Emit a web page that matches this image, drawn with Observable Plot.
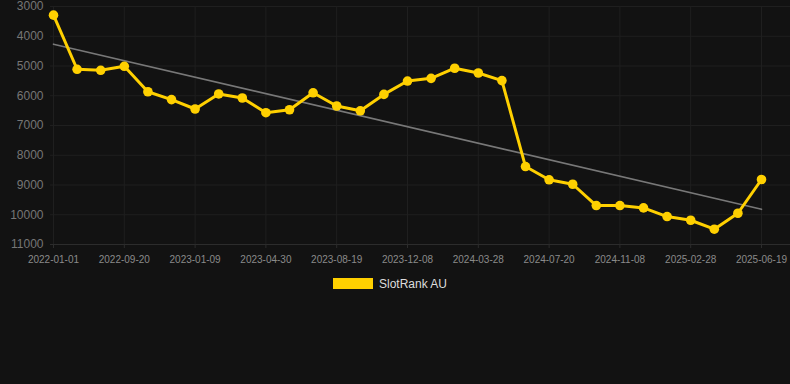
<!DOCTYPE html>
<html><head><meta charset="utf-8">
<script src="https://cdn.jsdelivr.net/npm/d3@7"></script>
<script src="https://cdn.jsdelivr.net/npm/@observablehq/plot@0.6"></script>
<style>
html,body{margin:0;padding:0;background:#121212;width:790px;height:384px;overflow:hidden;font-family:"Liberation Sans",Arial,sans-serif;}
#chart svg{display:block;background:#121212;}
#legend{display:flex;justify-content:center;align-items:center;gap:6px;margin-top:8px;height:11px;color:#dddddd;font-size:12px;padding-right:10px;}
#legend .sw{display:inline-block;width:40px;height:11px;background:#FFD000;}
</style></head><body>
<div id="chart"></div>
<div id="legend"><span class="sw"></span><span id="lname"></span></div>
<script>
const seriesName = "SlotRank AU";
const dates = [
  "2022-01-01","2022-07-08","2022-08-14","2022-09-20","2022-10-27","2022-12-03",
  "2023-01-09","2023-02-15","2023-03-24","2023-04-30","2023-06-06","2023-07-13",
  "2023-08-19","2023-09-25","2023-11-01","2023-12-08","2024-01-14","2024-02-20",
  "2024-03-28","2024-05-04","2024-06-12","2024-07-20","2024-08-26","2024-10-02",
  "2024-11-08","2024-12-15","2025-01-21","2025-02-28","2025-04-06","2025-05-13",
  "2025-06-19"
];
const ranks = [
  3290, 5110, 5145, 5010, 5865, 6130,
  6445, 5940, 6075, 6570, 6470, 5900,
  6345, 6505, 5955, 5505, 5415, 5075,
  5235, 5490, 8380, 8825, 8975, 9690,
  9690, 9770, 10060, 10185, 10485, 9950,
  8815
];
const tickDates = dates.filter((d, i) => i % 3 === 0);
const yTicks = [3000, 4000, 5000, 6000, 7000, 8000, 9000, 10000, 11000];

const data = dates.map((d, i) => ({date: d, idx: i, rank: ranks[i]}));

// least-squares trend over the point index
const n = data.length;
const mx = d3.mean(data, d => d.idx);
const my = d3.mean(data, d => d.rank);
const slope = d3.sum(data, d => (d.idx - mx) * (d.rank - my)) / d3.sum(data, d => (d.idx - mx) ** 2);
const icpt = my - slope * mx;
const trend = [data[0], data[n - 1]].map(d => ({date: d.date, rank: icpt + slope * d.idx}));

document.getElementById("lname").textContent = seriesName;

const chart = Plot.plot({
  width: 790,
  height: 270,
  marginTop: 6,
  marginBottom: 26,
  marginLeft: 50,
  marginRight: 0,
  style: {background: "#121212", fontFamily: "'Liberation Sans', Arial, sans-serif"},
  x: {type: "point", domain: dates, insetLeft: 3, insetRight: 29, padding: 0, round: false},
  y: {domain: [11000, 3000], range: [244, 6]},
  marks: [
    Plot.ruleY(yTicks, {stroke: "#1f1f1f", strokeWidth: 1}),
    Plot.ruleX(tickDates, {stroke: "#1f1f1f", strokeWidth: 1}),
    Plot.ruleY([11000], {stroke: "#2c2c2c", strokeWidth: 1}),
    Plot.axisY(yTicks, {tickSize: 0, tickPadding: 7, fontSize: 12, fill: "#767676", label: null, tickFormat: d => String(d)}),
    Plot.axisX(tickDates, {tickSize: 4, tickPadding: 7, fontSize: 10, fill: "#8a8a8a", stroke: "#2c2c2c", label: null}),
    Plot.line(trend, {x: "date", y: "rank", stroke: "#787878", strokeWidth: 1.6}),
    Plot.line(data, {x: "date", y: "rank", stroke: "#FFD000", strokeWidth: 3, strokeLinejoin: "round"}),
    Plot.dot(data, {x: "date", y: "rank", r: 4.8, fill: "#FFD000", stroke: "none"})
  ]
});
document.getElementById("chart").appendChild(chart);
</script>
</body></html>
